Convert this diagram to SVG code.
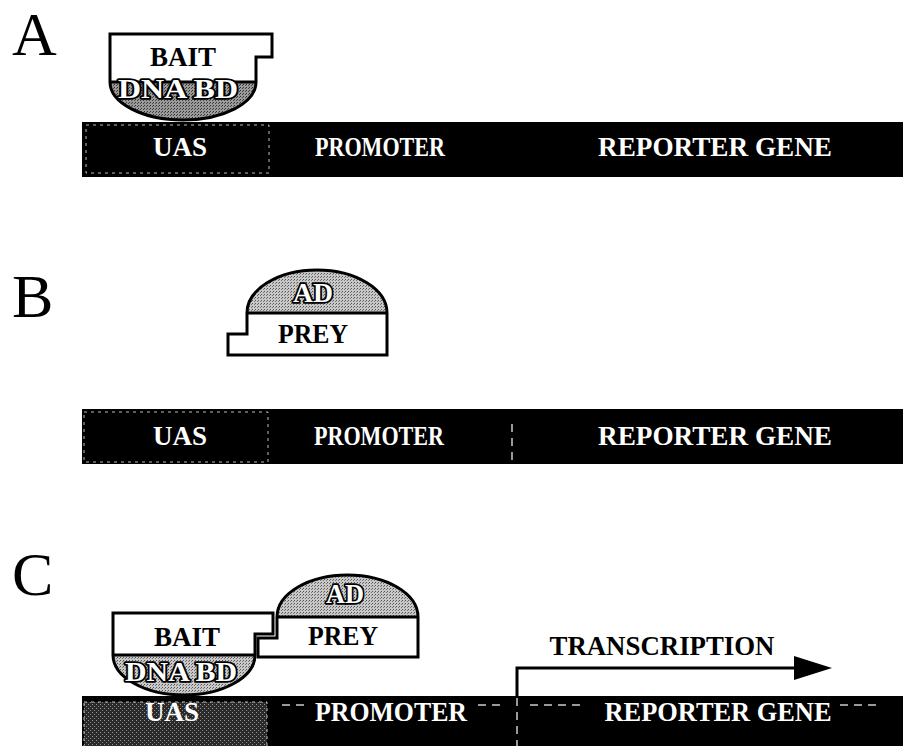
<svg xmlns="http://www.w3.org/2000/svg" width="903" height="746" viewBox="0 0 903 746">
<style>
.lbl{font-family:"Liberation Serif","Times New Roman",serif;font-size:62px;fill:#000}
.t{font-family:"Liberation Serif","Times New Roman",serif;font-weight:bold;font-size:27px;text-anchor:middle}
.w{fill:#fff}
.k{fill:#000}
.o{fill:#fff;stroke:#000;stroke-width:3.5;paint-order:stroke;stroke-linejoin:round}
.bar{fill:#000}
.uas{fill:none;stroke:#bbb;stroke-width:1;stroke-dasharray:3 4}
.edge{fill:none;stroke:#000;stroke-width:3;stroke-linejoin:miter}
.box{fill:#fff}
.dash{stroke:#ccc;stroke-width:1.5;stroke-dasharray:8 6;fill:none}
</style>
<defs>
<pattern id="stip" width="3" height="3" patternUnits="userSpaceOnUse">
<rect width="3" height="3" fill="#c8c8c8"/>
<rect width="1" height="1" fill="#555"/>
<rect x="2" y="1" width="1" height="1" fill="#777"/>
</pattern>
<pattern id="stipd" width="3" height="3" patternUnits="userSpaceOnUse">
<rect width="3" height="3" fill="#9a9a9a"/>
<rect width="1" height="1" fill="#333"/>
<rect x="2" y="1" width="1" height="1" fill="#444"/>
</pattern>
<pattern id="uasC" width="4" height="4" patternUnits="userSpaceOnUse">
<rect width="4" height="4" fill="#2a2a2a"/>
<rect width="1" height="1" fill="#999"/>
<rect x="2" y="2" width="1" height="1" fill="#888"/>
</pattern>
<marker id="ah" markerWidth="40" markerHeight="26" refX="0" refY="13" orient="auto" markerUnits="userSpaceOnUse">
<polygon points="0,1 38,13 0,25" fill="#000"/>
</marker>
</defs>

<g id="label-A"><text class="lbl" x="12" y="55">A</text></g>
<g id="label-B"><text class="lbl" x="12" y="317">B</text></g>
<g id="label-C"><text class="lbl" x="12" y="595">C</text></g>

<!-- Panel A -->
<g id="dna-A">
<rect class="bar" x="82" y="122" width="821" height="55"/>
<rect class="uas" x="86" y="125" width="183" height="48"/>
<text class="t w" x="180" y="156" textLength="54" lengthAdjust="spacingAndGlyphs">UAS</text>
<text class="t w" x="380" y="156" textLength="130" lengthAdjust="spacingAndGlyphs">PROMOTER</text>
<text class="t w" x="715" y="156" textLength="234" lengthAdjust="spacingAndGlyphs">REPORTER GENE</text>
</g>
<g id="bait-A">
<path class="box" d="M110,34 L272,34 L272,57 L256,57 L256,82 L110,82 Z"/>
<path fill="url(#stipd)" d="M256,82 A73,38 0 0 1 110,82 Z"/>
<path class="edge" d="M110,34 L272,34 L272,57 L256,57 L256,82 A73,38 0 0 1 110,82 Z M110,82 L256,82"/>
<text class="t k" x="183" y="66" textLength="66" lengthAdjust="spacingAndGlyphs">BAIT</text>
<text class="t o" x="178" y="98" textLength="120" lengthAdjust="spacingAndGlyphs">DNA BD</text>
</g>

<!-- Panel B -->
<g id="prey-B">
<path class="box" d="M228,355 L387,355 L387,313 L247,313 L247,334 L228,334 Z"/>
<path fill="url(#stip)" d="M387,313 A70,43 0 0 0 247,313 Z"/>
<path class="edge" d="M228,355 L387,355 L387,313 A70,43 0 0 0 247,313 L247,334 L228,334 Z M247,313 L387,313"/>
<text class="t o" x="313" y="302" textLength="40" lengthAdjust="spacingAndGlyphs">AD</text>
<text class="t k" x="313" y="343" textLength="70" lengthAdjust="spacingAndGlyphs">PREY</text>
</g>
<g id="dna-B">
<rect class="bar" x="82" y="409" width="821" height="55"/>
<rect class="uas" x="84" y="412" width="184" height="50"/>
<line class="dash" x1="512" y1="424" x2="512" y2="462" stroke-dasharray="4 5"/>
<text class="t w" x="180" y="445" textLength="54" lengthAdjust="spacingAndGlyphs">UAS</text>
<text class="t w" x="379" y="445" textLength="130" lengthAdjust="spacingAndGlyphs">PROMOTER</text>
<text class="t w" x="715" y="445" textLength="234" lengthAdjust="spacingAndGlyphs">REPORTER GENE</text>
</g>

<!-- Panel C -->
<g id="dna-C">
<rect class="bar" x="82" y="696" width="821" height="50"/>
<rect fill="url(#uasC)" x="84" y="702" width="183" height="44"/>
<rect class="uas" x="84" y="702" width="183" height="50"/>
<path class="dash" d="M282,705 H310 M478,705 H500 M530,705 H580 M840,705 H880"/>
<line class="dash" x1="517" y1="698" x2="517" y2="746" stroke-dasharray="4 5"/>
<text class="t w" x="172" y="721" textLength="54" lengthAdjust="spacingAndGlyphs">UAS</text>
<text class="t w" x="391" y="721" textLength="152" lengthAdjust="spacingAndGlyphs">PROMOTER</text>
<text class="t w" x="718" y="721" textLength="227" lengthAdjust="spacingAndGlyphs">REPORTER GENE</text>
</g>
<g id="bait-C">
<path class="box" d="M113,613 L273,613 L273,634 L255,634 L255,655 L113,655 Z"/>
<path fill="url(#stip)" d="M255,655 A71,40 0 0 1 113,655 Z"/>
<path class="edge" d="M113,613 L273,613 L273,634 L255,634 L255,655 A71,40 0 0 1 113,655 Z M113,655 L255,655"/>
<text class="t k" x="187" y="646" textLength="66" lengthAdjust="spacingAndGlyphs">BAIT</text>
<text class="t o" x="181" y="681" textLength="112" lengthAdjust="spacingAndGlyphs">DNA BD</text>
</g>
<g id="prey-C">
<path class="box" d="M258,657 L418,657 L418,617 L277,617 L277,638 L258,638 Z"/>
<path fill="url(#stip)" d="M418,617 A70.5,42 0 0 0 277,617 Z"/>
<path class="edge" d="M258,657 L418,657 L418,617 A70.5,42 0 0 0 277,617 L277,638 L258,638 Z M277,617 L418,617"/>
<text class="t o" x="345" y="603" textLength="38" lengthAdjust="spacingAndGlyphs">AD</text>
<text class="t k" x="343" y="645" textLength="70" lengthAdjust="spacingAndGlyphs">PREY</text>
</g>

<g id="connectors">
<path d="M517,696 L517,668 L794,668" fill="none" stroke="#000" stroke-width="3" marker-end="url(#ah)"/>
<text class="t k" x="662" y="655" textLength="225" lengthAdjust="spacingAndGlyphs">TRANSCRIPTION</text>
</g>
</svg>
